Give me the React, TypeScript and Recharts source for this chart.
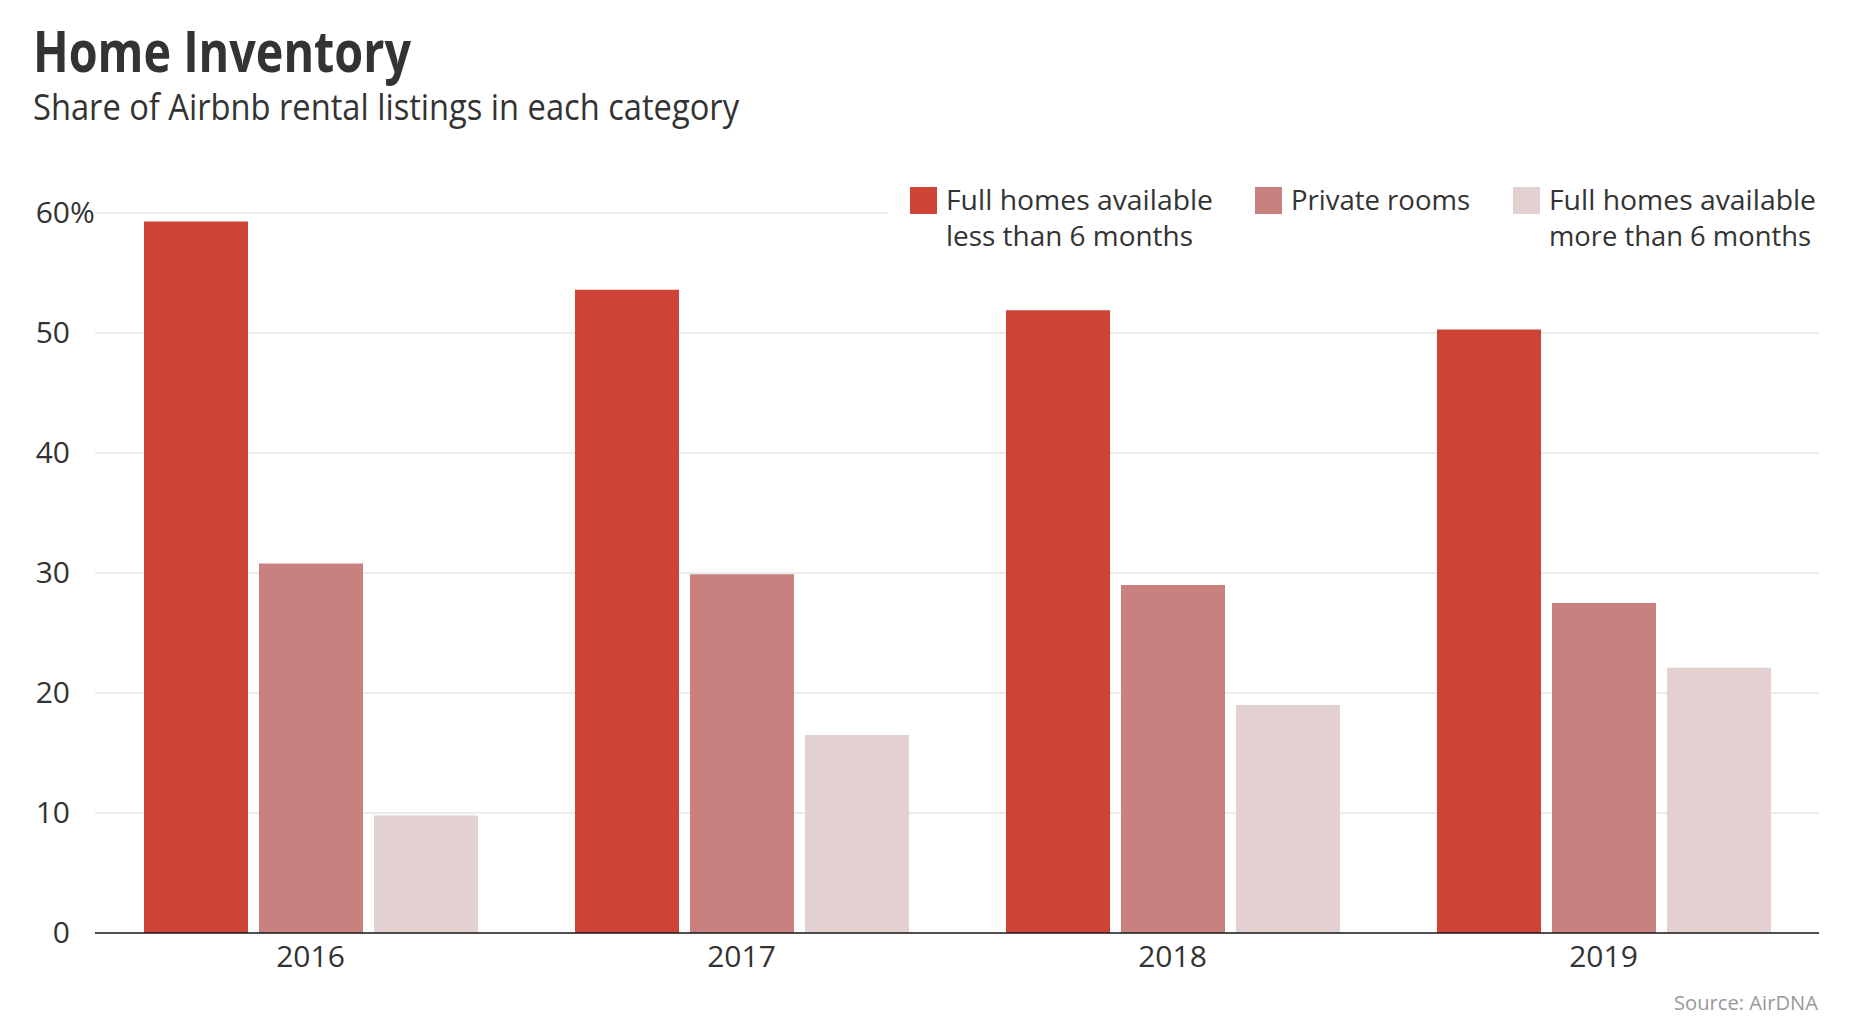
import React from 'react';
import { BarChart, Bar, XAxis, YAxis, CartesianGrid, Legend } from 'recharts';

const years = ['2016', '2017', '2018', '2019'];
const shortStay = [59.3, 53.6, 51.9, 50.3];
const privateRooms = [30.8, 29.9, 29.0, 27.5];
const longStay = [9.8, 16.5, 19.0, 22.1];
const yTicks = [0, 10, 20, 30, 40, 50, 60];

const seriesKeys = ['shortStay', 'privateRooms', 'longStay'];
const seriesNames = [
  'Full homes available less than 6 months',
  'Private rooms',
  'Full homes available more than 6 months',
];
const seriesColors = ['#cd4436', '#c9817f', '#e3d0d0'];
const legendLines = [
  ['Full homes available', 'less than 6 months'],
  ['Private rooms'],
  ['Full homes available', 'more than 6 months'],
];
const legendLineWidths = [
  [267, 247],
  [179],
  [267, 262],
];
const legendOffsets = [22, 367, 625];

const data = years.map((year, i) => ({
  year,
  shortStay: shortStay[i],
  privateRooms: privateRooms[i],
  longStay: longStay[i],
}));

const FONT = '"Open Sans", sans-serif';
const TEXT = '#333333';

const YTick = (props: any) => {
  const { x, y, payload } = props;
  const top = payload.value === yTicks[yTicks.length - 1];
  return (
    <g>
      <text x={x} y={y} dy={10} textAnchor="end" fontSize={30} fill={TEXT} fontFamily={FONT}>
        {payload.value}
      </text>
      {top && (
        <text x={x} y={y} dy={10} textAnchor="start" fontSize={30} fill={TEXT} fontFamily={FONT}>
          %
        </text>
      )}
    </g>
  );
};

const XTick = (props: any) => {
  const { x, y, payload } = props;
  return (
    <text x={x} y={y} dy={34} textAnchor="middle" fontSize={30} fill={TEXT} fontFamily={FONT}>
      {payload.value}
    </text>
  );
};

const LegendContent = () => (
  <svg width={950} height={82} style={{ display: 'block' }}>
    {seriesNames.map((name, i) => (
      <g key={name}>
        <rect x={legendOffsets[i]} y={9} width={27} height={27} fill={seriesColors[i]} />
        {legendLines[i].map((line, j) => (
          <text
            key={line}
            x={legendOffsets[i] + 36}
            y={32 + j * 36}
            fontSize={28}
            fill={TEXT}
            fontFamily={FONT}
            textLength={legendLineWidths[i][j]}
            lengthAdjust="spacingAndGlyphs"
          >
            {line}
          </text>
        ))}
      </g>
    ))}
  </svg>
);

export default function App() {
  return (
    <div
      style={{
        position: 'absolute',
        left: 0,
        top: 0,
        width: 1860,
        height: 1030,
        background: '#ffffff',
        overflow: 'hidden',
      }}
    >
      <svg width={1860} height={140} style={{ position: 'absolute', left: 0, top: 0 }}>
        <text
          x={33}
          y={72}
          fontSize={57}
          fontWeight={700}
          fill={TEXT}
          fontFamily={FONT}
          textLength={378}
          lengthAdjust="spacingAndGlyphs"
        >
          Home Inventory
        </text>
        <text
          x={33}
          y={120}
          fontSize={36}
          fill={TEXT}
          fontFamily={FONT}
          textLength={706}
          lengthAdjust="spacingAndGlyphs"
        >
          Share of Airbnb rental listings in each category
        </text>
      </svg>
      <div style={{ position: 'absolute', left: 0, top: 0 }}>
        <BarChart
          width={1860}
          height={1030}
          data={data}
          margin={{ top: 213, right: 41, bottom: 67, left: 35 }}
          barSize={104}
          barGap={11}
        >
          <CartesianGrid vertical={false} stroke="#e6e6e6" strokeWidth={1.5} />
          <XAxis
            dataKey="year"
            height={30}
            tickSize={0}
            tickMargin={0}
            axisLine={{ stroke: '#1a1a1a', strokeWidth: 1.5 }}
            tickLine={false}
            tick={<XTick />}
            interval={0}
          />
          <YAxis
            width={60}
            domain={[0, 60]}
            ticks={yTicks}
            tickSize={0}
            tickMargin={25}
            axisLine={false}
            tickLine={false}
            tick={<YTick />}
            interval={0}
          />
          <Legend
            layout="horizontal"
            verticalAlign="middle"
            align="center"
            content={<LegendContent />}
            wrapperStyle={{
              position: 'absolute',
              left: 888,
              top: 178,
              width: 950,
              height: 82,
              background: '#ffffff',
            }}
          />
          {seriesKeys.map((key, i) => (
            <Bar
              key={key}
              dataKey={key}
              name={seriesNames[i]}
              fill={seriesColors[i]}
              isAnimationActive={false}
            />
          ))}
        </BarChart>
      </div>
      <svg width={1860} height={1030} style={{ position: 'absolute', left: 0, top: 0, pointerEvents: 'none' }}>
        <text
          x={1674}
          y={1010}
          fontSize={20}
          fill="#999999"
          fontFamily={FONT}
          textLength={144}
          lengthAdjust="spacingAndGlyphs"
        >
          Source: AirDNA
        </text>
      </svg>
    </div>
  );
}
